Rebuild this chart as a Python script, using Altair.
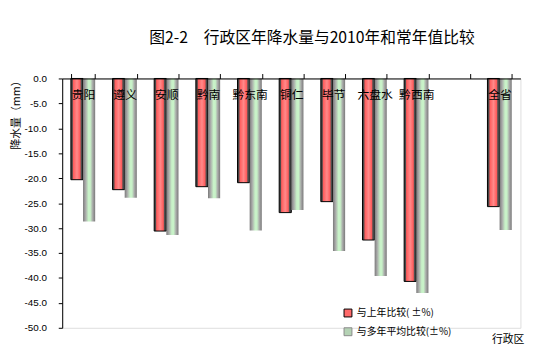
import altair as alt
import pandas as pd

regions = ["贵阳", "遵义", "安顺", "黔南", "黔东南", "铜仁", "毕节", "六盘水", "黔西南", "全省"]
x_domain = ["贵阳", "遵义", "安顺", "黔南", "黔东南", "铜仁", "毕节", "六盘水", "黔西南", " ", "全省"]
vs_last_year = [-20.3, -22.3, -30.6, -21.7, -20.9, -26.9, -24.7, -32.4, -40.7, -25.7]
vs_normal = [-28.7, -23.9, -31.4, -24.0, -30.5, -26.4, -34.6, -39.6, -43.0, -30.4]
series = ["与上年比较( ±%)", "与多年平均比较(±%)"]

rows = []
for r, a, b in zip(regions, vs_last_year, vs_normal):
    rows.append({"region": r, "series": series[0], "value": a})
    rows.append({"region": r, "series": series[1], "value": b})
df = pd.DataFrame(rows)

CJK = "Noto Sans CJK SC"

red_grad = alt.Gradient(
    gradient="linear", x1=0, x2=1, y1=0, y2=0,
    stops=[
        alt.GradientStop(color="#3a3a3a", offset=0),
        alt.GradientStop(color="#4a4a4a", offset=0.12),
        alt.GradientStop(color="#ff5c5c", offset=0.2),
        alt.GradientStop(color="#ff8a8a", offset=0.5),
        alt.GradientStop(color="#ff5c5c", offset=0.75),
        alt.GradientStop(color="#505050", offset=0.85),
        alt.GradientStop(color="#3a3a3a", offset=1),
    ],
)
green_grad = alt.Gradient(
    gradient="linear", x1=0, x2=1, y1=0, y2=0,
    stops=[
        alt.GradientStop(color="#7a7a7a", offset=0),
        alt.GradientStop(color="#a8a8a8", offset=0.2),
        alt.GradientStop(color="#c8f2c8", offset=0.45),
        alt.GradientStop(color="#c8f2c8", offset=0.6),
        alt.GradientStop(color="#a8a8a8", offset=0.8),
        alt.GradientStop(color="#7a7a7a", offset=1),
    ],
)

x_enc = alt.X(
    "region:N",
    scale=alt.Scale(domain=x_domain, paddingInner=0.417, paddingOuter=0.2085),
    axis=alt.Axis(
        orient="top", title="行政区", titleX=452, titleY=265,
        titleAlign="center", titleBaseline="middle", titleFont=CJK,
        titleFontSize=11, titleFontWeight="normal", titleColor="black",
        labelAngle=0, labelFont=CJK, labelFontSize=12, labelColor="black",
        labelPadding=-21, labelBaseline="middle",
        tickBand="extent", tickSize=5, tickColor="black", domainColor="black",
        zindex=1,
    ),
)
y_enc = alt.Y(
    "value:Q",
    scale=alt.Scale(domain=[-50, 0], nice=False),
    axis=alt.Axis(
        values=list(range(0, -55, -5)), grid=False,
        labelExpr="replace(format(datum.value, '.1f'), '\u2212', '-')",
        labelFont="Liberation Sans", labelFontSize=10, labelColor="black",
        labelPadding=12,
        tickSize=4, tickColor="black", domainColor="black",
        title="降水量（mm）", titleFont=CJK, titleFontSize=11,
        titleFontWeight="normal", titleColor="black", titleAngle=-90,
        titleX=-46, titleY=34, titleAlign="center", titleBaseline="middle",
    ),
)
xo = alt.XOffset("series:N", scale=alt.Scale(domain=series, paddingInner=0, paddingOuter=0))

base = alt.Chart(df)

red = base.transform_filter(alt.datum.series == series[0]).mark_bar(
    fill=red_grad, stroke="black", strokeWidth=1
).encode(x=x_enc, y=y_enc, xOffset=xo)

green = base.transform_filter(alt.datum.series == series[1]).mark_bar(
    fill=green_grad
).encode(x=x_enc, y=y_enc, xOffset=xo)

leg = alt.Legend(
    title=None, orient="none", legendX=285, legendY=233,
    direction="vertical", symbolType="square", symbolSize=64,
    labelFont=CJK, labelFontSize=10, labelColor="black",
    rowPadding=7, symbolStrokeWidth=1,
)

legend_layer = base.mark_square(clip=True, opacity=1).encode(
    x=x_enc,
    xOffset=xo,
    y=alt.value(-100),
    color=alt.Color(
        "series:N",
        scale=alt.Scale(domain=series, range=["#ff6a6a", "#b4d2b4"]),
        legend=leg,
    ),
    stroke=alt.Stroke(
        "series:N",
        scale=alt.Scale(domain=series, range=["black", "#8a8a8a"]),
        legend=leg,
    ),
)

chart = alt.layer(red, green, legend_layer).properties(
    width=465,
    height=253,
    autosize=alt.AutoSizeParams(type="none"),
    padding={"left": 55, "top": 69, "right": 30, "bottom": 18},
    title=alt.Title(
        "图2-2\u3000行政区年降水量与2010年和常年值比较",
        font=CJK, fontSize=16, fontWeight="normal", color="black",
        anchor="middle", dx=21, offset=28,
    ),
).configure_view(stroke=None).configure(background="white")

chart.save("out.html", embed_options={"renderer": "svg", "actions": False})
